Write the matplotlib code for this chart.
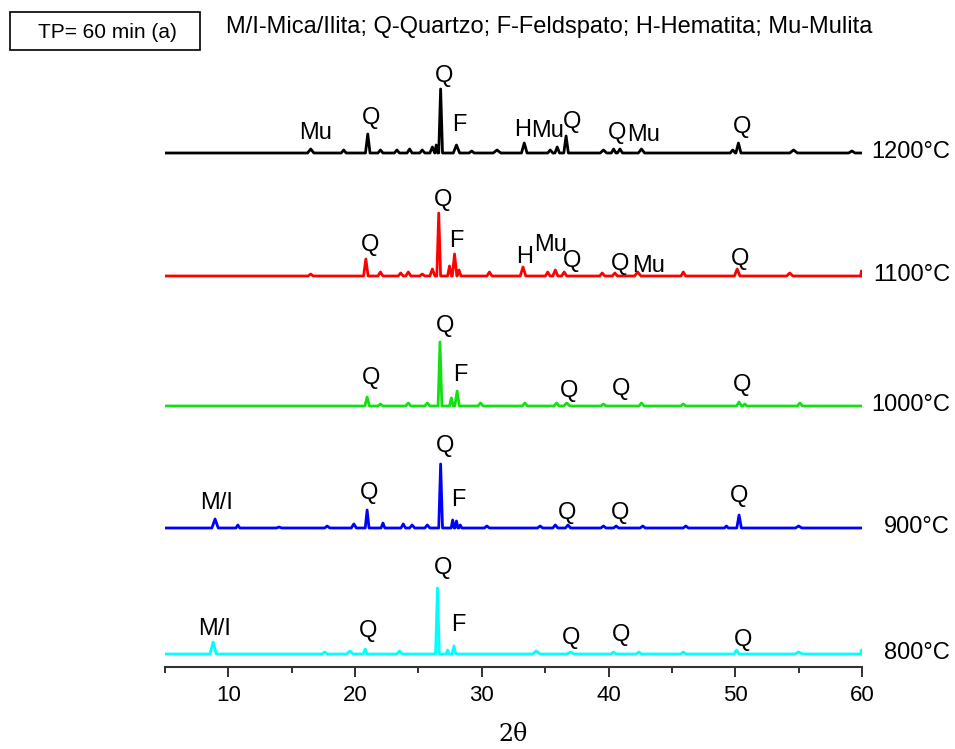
import numpy as np
import matplotlib
matplotlib.use('Agg')
import matplotlib.pyplot as plt
from matplotlib.patches import Rectangle

# XRD peaks: (2theta, height, half-width)
peaks_1200 = [(16.5, 4, .25), (19.1, 3, .2), (21.0, 19, .18), (22.0, 3, .2), (23.3, 3, .2),
              (24.3, 4, .2), (25.3, 3, .2), (26.1, 6, .2), (26.4, 8, .12), (26.75, 64, .15),
              (28.0, 8, .25), (29.2, 2, .2), (31.2, 3, .3), (33.35, 10, .22), (35.4, 3, .2),
              (35.95, 6, .18), (36.65, 17, .18), (39.6, 3, .25), (40.4, 4, .18), (40.9, 4, .2),
              (42.6, 4, .25), (49.8, 3, .2), (50.25, 10, .2), (54.6, 3, .3), (59.2, 2, .25)]
peaks_1100 = [(16.5, 2, .2), (20.85, 17, .18), (22.0, 4, .2), (23.6, 3, .2), (24.2, 4, .2),
              (25.3, 2, .2), (26.1, 7, .2), (26.6, 63, .15), (27.45, 10, .15), (27.85, 22, .18),
              (28.2, 6, .15), (30.6, 4, .2), (33.25, 9, .22), (35.2, 4, .18), (35.8, 6, .2),
              (36.5, 4, .2), (39.5, 3, .2), (40.5, 3, .2), (42.3, 4, .25), (45.9, 4, .18),
              (50.15, 7, .22), (54.3, 3, .25), (59.95, 5, .05)]
peaks_1000 = [(20.95, 9, .18), (22.0, 2, .2), (24.2, 3, .2), (25.7, 3, .2), (26.7, 64, .15),
              (27.6, 8, .15), (28.05, 15, .18), (29.9, 3, .2), (33.4, 3, .2), (35.9, 3, .2),
              (36.7, 3, .25), (39.6, 2, .2), (42.6, 3, .2), (45.9, 2, .2), (50.3, 4, .2),
              (50.75, 2, .15), (55.1, 3, .2)]
peaks_900 = [(8.95, 9, .25), (10.75, 3, .15), (14.0, 1, .2), (17.8, 2, .2), (19.9, 4, .2),
             (20.95, 18, .15), (22.2, 5, .15), (23.8, 4, .18), (24.5, 3, .2), (25.7, 3, .2),
             (26.75, 64, .15), (27.7, 8, .12), (28.0, 7, .12), (28.3, 3, .12), (30.4, 2, .2),
             (34.6, 2, .2), (35.8, 3, .2), (36.8, 3, .2), (39.6, 2, .2), (40.6, 2, .2),
             (42.7, 2, .2), (46.1, 2, .2), (49.3, 2, .15), (50.3, 13, .18), (55.0, 2, .25)]
peaks_800 = [(8.8, 12, .25), (17.6, 2, .2), (19.6, 3, .25), (20.8, 5, .15), (23.5, 3, .2),
             (26.5, 66, .15), (27.3, 4, .12), (27.8, 8, .15), (34.3, 3, .3), (37.0, 2, .3),
             (40.4, 2, .2), (42.4, 2, .2), (45.9, 2, .2), (50.1, 4, .2), (55.0, 2, .3),
             (59.95, 4, .05)]

temps = ['1200°C', '1100°C', '1000°C', '900°C', '800°C']
offsets = [514, 391, 261, 139, 13]
colors = ['black', '#ff0000', '#11e011', '#0000ff', '#00ffff']
series = [peaks_1200, peaks_1100, peaks_1000, peaks_900, peaks_800]

# phase labels: (text, 2theta, y)
labels_1200 = [('Mu', 16.9, 534), ('Q', 21.26, 549), ('Q', 27.0, 591), ('F', 28.2, 542),
               ('H', 33.2, 537), ('Mu', 35.15, 536), ('Q', 37.15, 545), ('Q', 40.67, 534),
               ('Mu', 42.8, 532), ('Q', 50.54, 540)]
labels_1100 = [('Q', 21.18, 422), ('Q', 26.94, 467), ('F', 27.97, 426), ('H', 33.41, 410),
               ('Mu', 35.39, 422), ('Q', 37.12, 406), ('Q', 40.91, 403), ('Mu', 43.12, 401),
               ('Q', 50.38, 408)]
labels_1000 = [('Q', 21.26, 289), ('Q', 27.1, 341), ('F', 28.28, 292), ('Q', 36.89, 276),
               ('Q', 40.99, 278), ('Q', 50.54, 282)]
labels_900 = [('M/I', 9.03, 164), ('Q', 21.1, 174), ('Q', 27.1, 221), ('F', 28.13, 167),
              ('Q', 36.73, 154), ('Q', 40.91, 154), ('Q', 50.3, 171)]
labels_800 = [('M/I', 8.95, 38), ('Q', 21.02, 36), ('Q', 26.94, 99), ('F', 28.13, 42),
              ('Q', 37.04, 29), ('Q', 40.99, 32), ('Q', 50.62, 27)]


def trace(peaks):
    pts = [(5.0, 0.0), (60.0, 0.0)]
    for p, h, w in peaks:
        pts += [(p - w, 0.0), (p, h), (p + w, 0.0)]
    pts.sort(key=lambda t: t[0])
    pts = np.array(pts)
    pts[:, 0] = np.clip(pts[:, 0], 5, 60)
    return pts[:, 0], pts[:, 1]


fig = plt.figure(figsize=(9.55, 7.49), dpi=100)
ax = fig.add_axes([0.17277, 0.10948, 0.72984, 0.79706])

for peaks, off, c in zip(series, offsets, colors):
    x, y = trace(peaks)
    ax.plot(x, y + off, color=c, lw=2.0, solid_joinstyle='round')

for labs in [labels_1200, labels_1100, labels_1000, labels_900, labels_800]:
    for t, x, y in labs:
        ax.text(x, y, t, fontsize=17, family='Liberation Sans', ha='center', va='center')

for t, off in zip(temps, offsets):
    ax.text(66.95, off + 1, t, fontsize=17, family='Liberation Sans', ha='right', va='center',
            clip_on=False)

ax.set_xlim(5, 60)
ax.set_ylim(0, 597)
for s in ['left', 'right', 'top']:
    ax.spines[s].set_visible(False)
ax.spines['bottom'].set_linewidth(1.5)
ax.spines['bottom'].set_color('#333333')
ax.set_yticks([])
ax.set_xticks([10, 20, 30, 40, 50, 60])
ax.set_xticks([5, 15, 25, 35, 45, 55], minor=True)
ax.tick_params(axis='x', which='major', direction='out', length=7, width=1.3, pad=6,
               labelsize=16, colors='#222222')
ax.tick_params(axis='x', which='minor', direction='out', length=4, width=1.3, colors='#222222')
for lb in ax.get_xticklabels():
    lb.set_family(['Liberation Sans Narrow', 'Liberation Sans'])
    lb.set_color('black')
ax.set_xlabel('2θ', fontsize=17, family='DejaVu Serif', labelpad=12)

fig.patches.append(Rectangle((10 / 955, 1 - 50 / 749), 190 / 955, 38 / 749, transform=fig.transFigure,
                             fill=False, edgecolor='black', lw=1.2))
fig.text(107 / 955, 1 - 32 / 749, 'TP= 60 min (a)', fontsize=15, ha='center', va='center',
         family=['Liberation Sans Narrow', 'Liberation Sans'])
fig.text(226 / 955, 1 - 27 / 749, 'M/I-Mica/Ilita; Q-Quartzo; F-Feldspato; H-Hematita; Mu-Mulita',
         fontsize=17, ha='left', va='center', family=['Liberation Sans Narrow', 'Liberation Sans'])

fig.savefig('out.png', dpi=100)
